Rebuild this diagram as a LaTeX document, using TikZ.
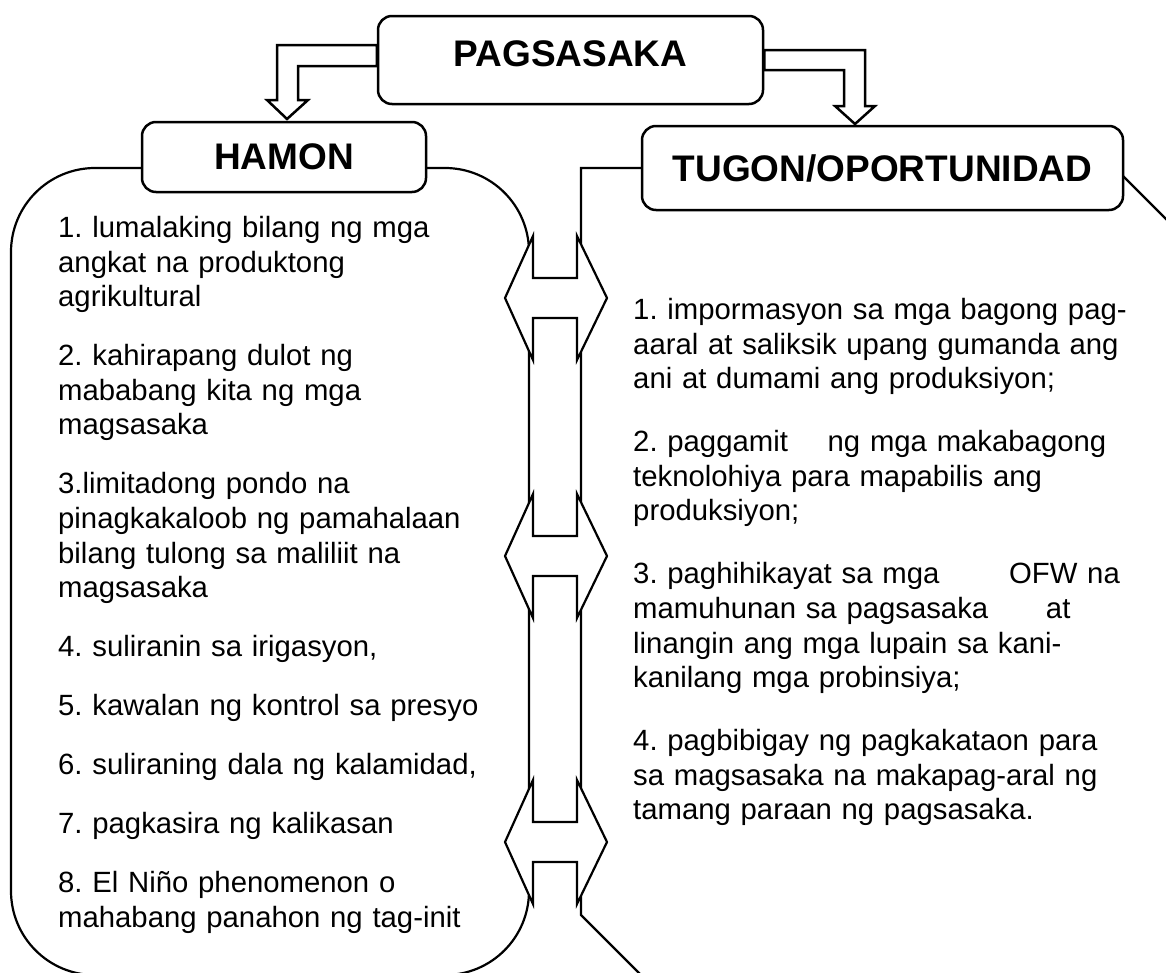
\documentclass[tikz,border=0pt]{standalone}
\usepackage{fontspec}
\setmainfont{Liberation Sans}
\setlength{\parindent}{0pt}
\frenchspacing

\tikzset{
    headbox/.style={draw, line width=2.5pt, rounded corners=14pt, fill=white,
        inner sep=0pt, font=\fontsize{37}{44}\selectfont\bfseries},
    blockarrow/.style={draw, line width=2.5pt, fill=white},
    panel/.style={draw, line width=2.2pt},
    joint/.style={draw, line width=2.2pt, fill=white},
    itemlist/.style={anchor=north west, inner sep=0pt, text width=540pt, align=left,
        font=\fontsize{29.3}{34.6}\selectfont, execute at begin node=\strut}
}

\begin{document}
\begin{tikzpicture}[x=1pt, y=-1pt]
    \useasboundingbox (0,0) rectangle (1166,972);
    \clip (0,0) rectangle (1166,972);
    \coordinate (hamonedge) at (142,168);
    \coordinate (tugonedge) at (642,168);
    % the two panels and the column between them
    \draw[panel, rounded corners=84pt] (hamonedge) -- (11,168) -- (11,975) -- (529,975)
        -- (529,168) [sharp corners] -- (426,168);
    \draw[panel] (tugonedge) -- (581,168) -- (581,915) -- (781,1115);
    \draw[panel] (1115,168) -- (1315,368);
    \foreach \c in {298,556,842}
        \draw[joint] (533,\c-62) -- (533,\c-20) -- (577,\c-20) -- (577,\c-62) -- (607,\c)
            -- (577,\c+62) -- (577,\c+20) -- (533,\c+20) -- (533,\c+62) -- (505,\c) -- cycle;
    % boxes
    \node[headbox, minimum width=385pt, minimum height=88pt, text depth=12pt] (pagsasaka) at (570.5,60) {PAGSASAKA};
    \node[headbox, minimum width=284pt, minimum height=70pt] (hamon) at (284,157) {HAMON};
    \node[headbox, minimum width=481pt, minimum height=84pt] (tugon) at (882.5,168) {TUGON/OPORTUNIDAD};
    \draw[blockarrow] (pagsasaka.west |- 0,45) -- (277,45) -- (277,100) -- (267,100) -- (287,119)
        -- (308,100) -- (298,100) -- (298,66) -- (pagsasaka.west |- 0,66) -- cycle;
    \draw[blockarrow] (pagsasaka.east |- 0,50) -- (865,50) -- (865,106) -- (875,106) -- (855,124)
        -- (835,106) -- (844,106) -- (844,70) -- (pagsasaka.east |- 0,70) -- cycle;
    % lists
    \node[itemlist] (hamonlist) at (58,213) {1. lumalaking bilang ng mga\\ angkat na produktong\\ agrikultural\\[24.4pt]
        2. kahirapang dulot ng\\ mababang kita ng mga\\ magsasaka\\[24.4pt]
        3.limitadong pondo na\\ pinagkakaloob ng pamahalaan\\ bilang tulong sa maliliit na\\ magsasaka\\[24.4pt]
        4. suliranin sa irigasyon,\\[24.4pt]
        5. kawalan ng kontrol sa presyo\\[24.4pt]
        6. suliraning dala ng kalamidad,\\[24.4pt]
        7. pagkasira ng kalikasan\\[24.4pt]
        8. El Niño phenomenon o\\ mahabang panahon ng tag-init};
    \node[itemlist] (tugonlist) at (633,295) {1. impormasyon sa mga bagong pag-\\ aaral at saliksik upang gumanda ang\\ ani at dumami ang produksiyon;\\[28.4pt]
        2. paggamit\hspace{30pt} ng mga makabagong\\ teknolohiya para mapabilis ang\\ produksiyon;\\[28.4pt]
        3. paghihikayat sa mga\hspace{60pt} OFW na\\ mamuhunan sa pagsasaka\hspace{48pt} at\\ linangin ang mga lupain sa kani-\\ kanilang mga probinsiya;\\[28.4pt]
        4. pagbibigay ng pagkakataon para\\ sa magsasaka na makapag-aral ng\\ tamang paraan ng pagsasaka.};
\end{tikzpicture}
\end{document}
